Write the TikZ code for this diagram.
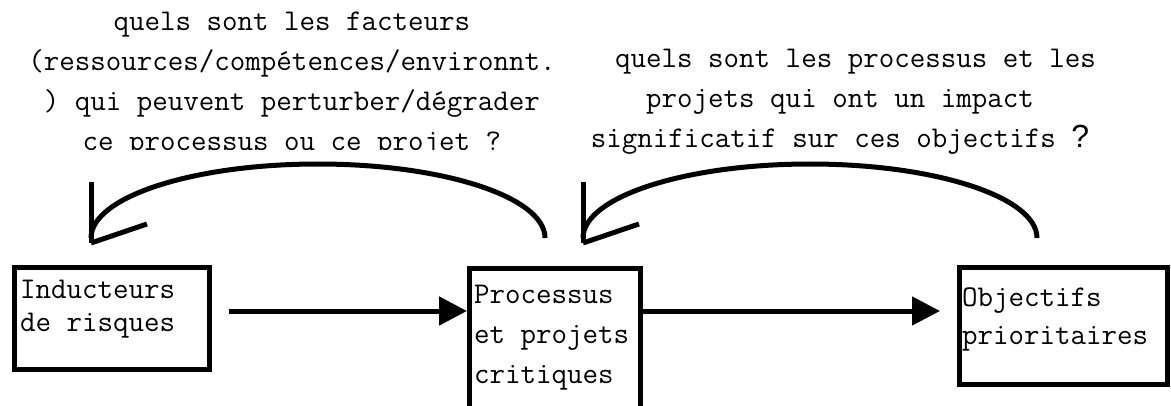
\documentclass[tikz,border=0pt]{standalone}
\usepackage{fontspec}
\newfontfamily\qfont{Liberation Sans}
\usetikzlibrary{arrows.meta}

\tikzset{
  bloc/.style={draw, line width=5pt, inner sep=0pt},
  texte/.style={font=\ttfamily\fontsize{30.1}{40}\selectfont, inner sep=0pt},
  etiq/.style={texte, align=left, anchor=base west},
  flux/.style={line width=5pt, -{Triangle[length=28pt,width=28pt]}},
  boucle/.style={line width=5pt},
}

\begin{document}
\begin{tikzpicture}[x=1pt,y=1pt]
  \clip (0,0) rectangle (1171,405);

  % Les trois blocs
  \node[bloc, minimum width=195pt, minimum height=102pt] (ind) at (112,86.5) {};
  \node[bloc, minimum width=171pt, minimum height=162pt] (proc) at (555,56) {};
  \node[bloc, minimum width=208pt, minimum height=117pt] (obj) at (1063.5,79) {};

  \node[etiq, font=\ttfamily\fontsize{30.1}{33}\selectfont] (indt) at (20,74) {Inducteurs\\de risques};
  \node[etiq] (proct) at (474,22) {Processus\\et projets\\critiques};
  \node[etiq, font=\ttfamily\fontsize{30.1}{38}\selectfont] (objt) at (962,61) {Objectifs\\prioritaires};

  % Fleches horizontales
  \coordinate (rang) at (0,94);
  \draw[flux] ([xshift=17pt]ind.east |- rang) -- (proc.west |- rang);
  \draw[flux] (proc.east |- rang) -- ([xshift=-17pt]obj.west |- rang);

  % Boucles de retour
  \foreach \n/\dx in {g/0, d/492}{
    \begin{scope}[shift={(\dx,0)}]
      \coordinate (dep\n) at (545,167);
      \coordinate (pt\n) at (91,162);
      \draw[boucle] (dep\n) arc[start angle=0, end angle=180, x radius=227, y radius=74];
      \draw[boucle] (pt\n) -- ++(0,61);
      \draw[boucle] (pt\n) -- ++(56,19);
    \end{scope}
  }

  % Questions
  \begin{scope}
    \clip (0,255.5) rectangle (600,405);
    \node[texte, align=center, anchor=base] (qg) at (292,254)
      {quels sont les facteurs\\(ressources/compétences/environnt.\\) qui peuvent perturber/dégrader\\ce processus ou ce projet ?};
  \end{scope}
  \node[texte, align=center, anchor=base] (qd) at (840,257)
    {\hphantom{qq}quels sont les processus et les\\projets qui ont un impact\\significatif sur ces objectifs {\qfont\fontsize{32}{40}\selectfont ?}};
\end{tikzpicture}
\end{document}
